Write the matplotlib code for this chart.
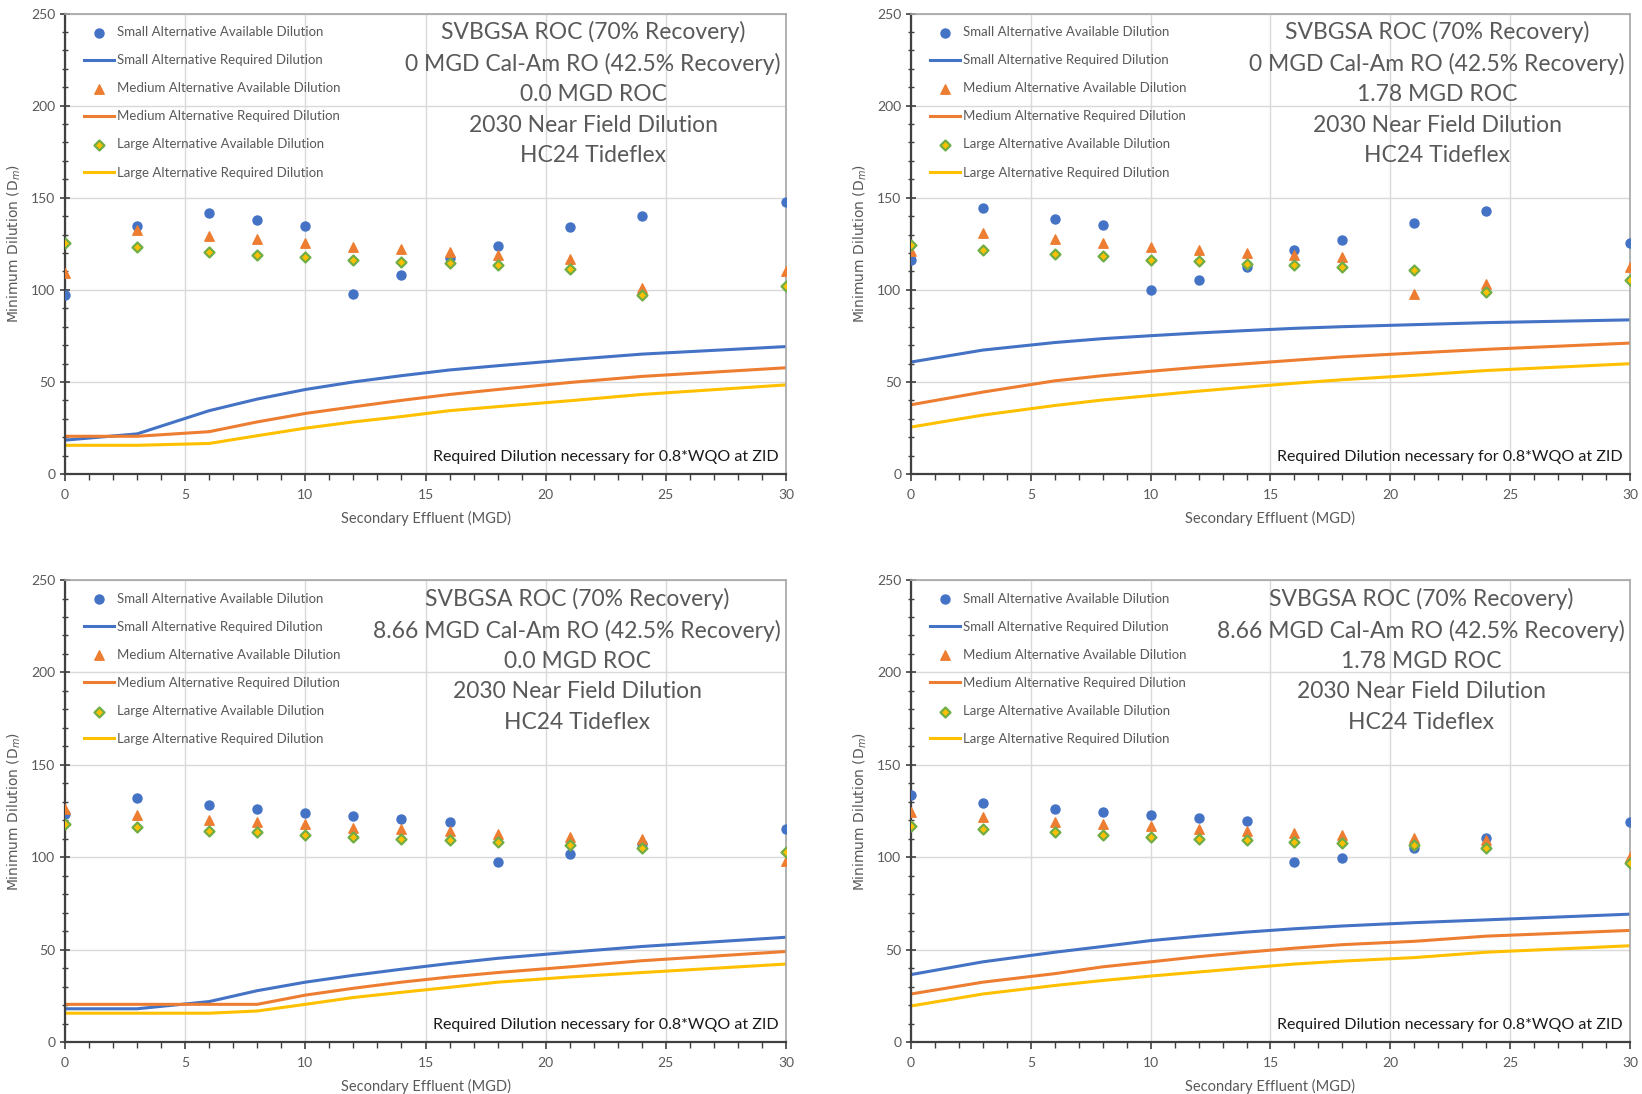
import matplotlib
matplotlib.use("Agg")
import matplotlib.pyplot as plt
from matplotlib.ticker import MultipleLocator

plt.rcParams["font.family"] = ["Lato", "DejaVu Sans"]

effluent_mgd = [0, 3, 6, 8, 10, 12, 14, 16, 18, 21, 24, 30]

# panel A: 0 MGD Cal-Am RO, 0.0 MGD ROC
a_small_avail = [97, 134.9, 141.7, 138, 134.7, 98, 108.3, 117.2, 123.7, 134.3, 139.9, 147.7]
a_small_req = [18.4, 21.8, 34.4, 40.7, 45.9, 50, 53.4, 56.5, 58.8, 62.1, 65.1, 69.2]
a_med_avail = [109.2, 132.6, 129.5, 127.4, 125.2, 123.5, 122, 120.3, 118.9, 117, 100.8, 110.1]
a_med_req = [20.5, 20.5, 23, 28.3, 32.9, 36.5, 40, 43.2, 45.9, 49.7, 53, 57.7]
a_large_avail = [125.7, 123.1, 120.7, 119, 117.9, 116.3, 115.1, 114.4, 113.3, 111.4, 97.1, 102.3]
a_large_req = [15.6, 15.6, 16.6, 20.8, 24.9, 28.3, 31.2, 34.4, 36.6, 39.8, 43.2, 48.4]

# panel B: 0 MGD Cal-Am RO, 1.78 MGD ROC
b_small_avail = [116.1, 144.5, 138.6, 135.2, 99.9, 105.1, 112.4, 121.8, 126.9, 136.3, 142.7, 125.4]
b_small_req = [60.8, 67.3, 71.4, 73.5, 75.1, 76.6, 77.9, 79.1, 80, 81.1, 82.2, 83.7]
b_med_avail = [121.1, 130.8, 127.4, 125.2, 123.5, 121.8, 120, 118.7, 117.6, 97.8, 103.2, 112.2]
b_med_req = [37.6, 44.5, 50.6, 53.4, 55.8, 58, 59.9, 61.8, 63.6, 65.7, 67.7, 71.1]
b_large_avail = [124.3, 121.7, 119.6, 118.3, 116.4, 115.7, 114.2, 113.3, 112.5, 110.7, 98.8, 105.3]
b_large_req = [25.5, 32, 37.2, 40.2, 42.6, 45, 47.2, 49.3, 51.2, 53.6, 56.2, 59.9]

# panel C: 8.66 MGD Cal-Am RO, 0.0 MGD ROC
c_small_avail = [123.5, 131.8, 128.1, 126.1, 123.9, 122.2, 120.6, 119.3, 97.4, 101.6, 107.3, 115.4]
c_small_req = [18, 18, 21.9, 27.8, 32.4, 36.1, 39.4, 42.5, 45.3, 48.6, 51.7, 56.7]
c_med_avail = [126.1, 123, 120.4, 119.1, 117.8, 116, 115.2, 114, 112.7, 111.2, 110.1, 98.1]
c_med_req = [20.4, 20.4, 20.4, 20.4, 25.4, 29.1, 32.4, 35.2, 37.6, 40.7, 44, 49]
c_large_avail = [118.2, 116.2, 114.3, 113.4, 112.3, 111.2, 110.1, 109.2, 108.2, 106.8, 105.1, 102.7]
c_large_req = [15.6, 15.6, 15.6, 16.8, 20.4, 24.1, 26.9, 29.6, 32.4, 35.2, 37.6, 42.2]

# panel D: 8.66 MGD Cal-Am RO, 1.78 MGD ROC
d_small_avail = [133.7, 129.6, 126.1, 124.4, 122.8, 121.1, 119.5, 97.4, 99.4, 105.1, 110.6, 118.9]
d_small_req = [36.5, 43.4, 48.6, 51.7, 54.9, 57.3, 59.5, 61.3, 62.8, 64.6, 66.1, 69.2]
d_med_avail = [124.3, 121.9, 119.3, 118, 116.7, 115.2, 114.1, 113, 111.9, 110.5, 109.2, 100]
d_med_req = [26, 32.4, 37, 40.7, 43.4, 46.2, 48.6, 50.8, 52.7, 54.5, 57.3, 60.4]
d_large_avail = [116.9, 115.2, 113.4, 112.3, 111.2, 110.1, 109.4, 108.4, 107.5, 106.4, 104.9, 96.8]
d_large_req = [19.5, 26, 30.6, 33.3, 35.7, 37.9, 40.1, 42.2, 43.8, 45.7, 48.6, 52.1]

calam_labels = ["0", "0", "8.66", "8.66"]
roc_labels = ["0.0", "1.78", "0.0", "1.78"]

BLUE = "#4472C4"
ORANGE = "#ED7D31"
YELLOW = "#FFC000"
GREEN = "#70AD47"
GREY = "#595959"

panels = [
    (a_small_avail, a_small_req, a_med_avail, a_med_req, a_large_avail, a_large_req),
    (b_small_avail, b_small_req, b_med_avail, b_med_req, b_large_avail, b_large_req),
    (c_small_avail, c_small_req, c_med_avail, c_med_req, c_large_avail, c_large_req),
    (d_small_avail, d_small_req, d_med_avail, d_med_req, d_large_avail, d_large_req),
]

# axes boxes in figure fractions (left, bottom, width, height)
boxes = [
    (0.0396, 0.5667, 0.4391, 0.4209),
    (0.5548, 0.5667, 0.4379, 0.4209),
    (0.0396, 0.0475, 0.4391, 0.4223),
    (0.5548, 0.0475, 0.4379, 0.4223),
]

fig = plt.figure(figsize=(16.42, 10.94), dpi=100)

for i, (s_av, s_rq, m_av, m_rq, l_av, l_rq) in enumerate(panels):
    ax = fig.add_axes(boxes[i])
    ax.scatter(effluent_mgd, s_av, marker="o", s=42, color=BLUE, zorder=3,
               label="Small Alternative Available Dilution")
    ax.plot(effluent_mgd, s_rq, color=BLUE, lw=2.2, zorder=2,
            label="Small Alternative Required Dilution")
    ax.scatter(effluent_mgd, m_av, marker="^", s=46, color=ORANGE, zorder=3,
               label="Medium Alternative Available Dilution")
    ax.plot(effluent_mgd, m_rq, color=ORANGE, lw=2.2, zorder=2,
            label="Medium Alternative Required Dilution")
    ax.scatter(effluent_mgd, l_av, marker="D", s=26, facecolor=YELLOW,
               edgecolor=GREEN, linewidth=1.6, zorder=3,
               label="Large Alternative Available Dilution")
    ax.plot(effluent_mgd, l_rq, color=YELLOW, lw=2.2, zorder=2,
            label="Large Alternative Required Dilution")

    ax.set_xlim(0, 30)
    ax.set_ylim(0, 250)
    ax.xaxis.set_major_locator(MultipleLocator(5))
    ax.xaxis.set_minor_locator(MultipleLocator(1))
    ax.yaxis.set_major_locator(MultipleLocator(50))
    ax.yaxis.set_minor_locator(MultipleLocator(10))
    ax.grid(True, which="major", color="#D9D9D9", lw=1.0, zorder=0)
    ax.set_axisbelow(True)

    for side in ("top", "right"):
        ax.spines[side].set_color("#A6A6A6")
        ax.spines[side].set_linewidth(1.2)
    for side in ("left", "bottom"):
        ax.spines[side].set_color("#404040")
        ax.spines[side].set_linewidth(1.6)

    ax.tick_params(axis="x", which="both", direction="out", colors="#404040",
                   labelcolor=GREY, labelsize=10, pad=6)
    ax.tick_params(axis="x", which="major", length=5, width=1.2)
    ax.tick_params(axis="x", which="minor", length=4, width=1.0)
    ax.tick_params(axis="y", which="both", direction="inout", colors="#404040",
                   labelcolor=GREY, labelsize=10)
    ax.tick_params(axis="y", which="major", length=7, width=1.2)
    ax.tick_params(axis="y", which="minor", length=5, width=1.0)

    ax.set_xlabel("Secondary Effluent (MGD)", color=GREY, fontsize=10.5, labelpad=7)
    ax.set_ylabel("Minimum Dilution (D$_m$)", color=GREY, fontsize=10,
                  family="DejaVu Sans", labelpad=6)

    title = ("SVBGSA ROC (70% Recovery)\n"
             f"{calam_labels[i]} MGD Cal-Am RO (42.5% Recovery)\n"
             f"{roc_labels[i]} MGD ROC\n"
             "2030 Near Field Dilution\n"
             "HC24 Tideflex")
    ax.text(0.993, 0.984, title, transform=ax.transAxes, ha="right", va="top",
            multialignment="center", fontsize=16.5, color=GREY, linespacing=1.55)

    ax.text(0.99, 0.022, "Required Dilution necessary for 0.8*WQO at ZID",
            transform=ax.transAxes, ha="right", va="bottom", fontsize=11.5,
            color="#1a1a1a")

    ax.legend(loc="upper left", bbox_to_anchor=(0.015, 0.99), frameon=False,
              fontsize=9.5, labelcolor=GREY, labelspacing=1.22, handlelength=2.3,
              handletextpad=0.2, borderaxespad=0.2)

fig.savefig("out.png", dpi=100)
